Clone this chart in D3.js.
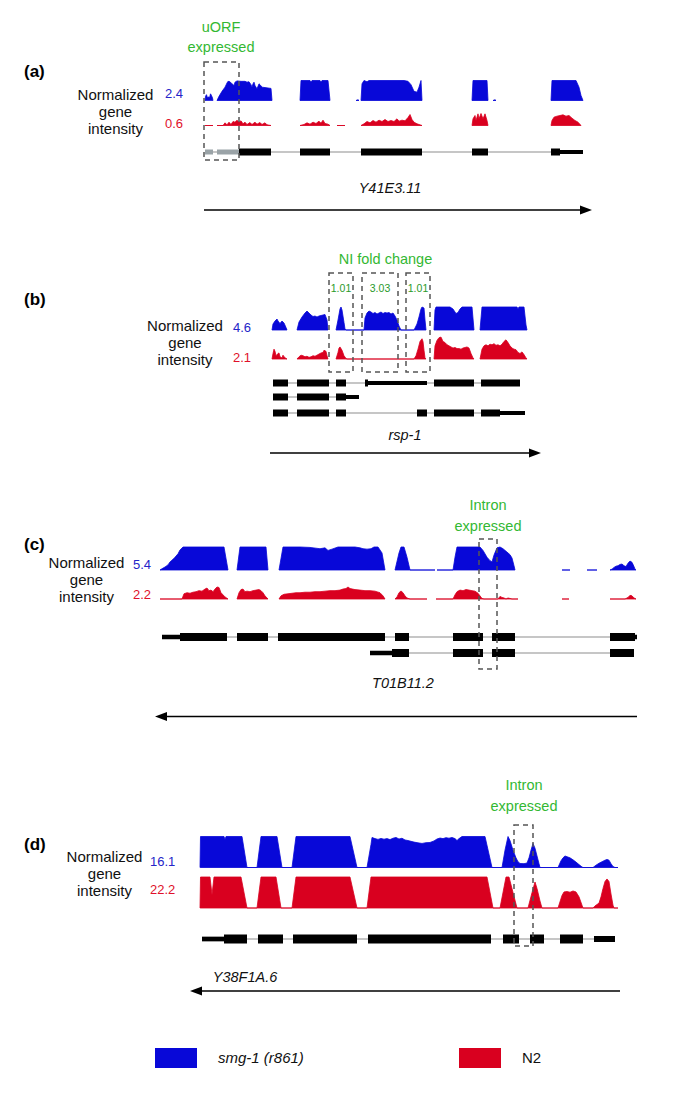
<!DOCTYPE html>
<html><head><meta charset="utf-8">
<script src="https://cdn.jsdelivr.net/npm/d3@7"></script>
<style>body{margin:0;background:#fff}svg text{font-family:"Liberation Sans",Arial,Helvetica,sans-serif}</style>
</head><body>
<svg id="fig" width="685" height="1114"></svg>
<script>
// ---------------- DATA ----------------
const panelLabels = ["(a)", "(b)", "(c)", "(d)"];
const geneNames = ["Y41E3.11", "rsp-1", "T01B11.2", "Y38F1A.6"];
const blueMax = [2.4, 4.6, 5.4, 16.1];
const redMax = [0.6, 2.1, 2.2, 22.2];
const annotations = [["uORF", "expressed"], ["NI fold change"], ["Intron", "expressed"], ["Intron", "expressed"]];
const foldChanges = ["1.01", "3.03", "1.01"];
const legendLabels = ["smg-1 (r861)", "N2"];

// coverage: [position, normalized intensity]
const aBlue = [
  [[1,0],[1.5,0.5],[2.5,0.7],[3.5,0.3],[4.5,0.45],[5.5,0.3],[6.5,0.8],[7.5,0.6],[8.5,0.3],[9,0]],
  [[13,0],[15,0.5],[18,1.1],[21,1.6],[23,2.1],[24,2.3],[26,2.25],[28,2.0],[30,1.8],[31,2.2],[33,2.35],[37,2.3],[41,2.3],[43,2.2],[45,2.25],[47,1.9],[48,1.6],[49,2.0],[50,2.2],[51,1.8],[53,1.4],[55,2.0],[56,1.9],[58,1.6],[61,1.55],[64,1.5],[67,1.45],[68,0]],
  [[96,0],[97,2.4],[106,2.4],[107,2.2],[108,2.4],[116,2.4],[117,2.2],[118,2.4],[124,2.4],[126,0]],
  [[152,0],[154,0.1],[155,0]],
  [[157,0],[158,2.0],[160,2.4],[163,2.25],[165,2.4],[200,2.4],[204,2.3],[207,1.9],[210,1.1],[213,1.0],[215,1.6],[217,2.4],[218,0]],
  [[268,0],[269,2.4],[283,2.4],[284,0]],
  [[289,0],[291,0.1],[292,0]],
  [[347,0],[348,2.4],[372,2.4],[375,1.6],[377,0.6],[379,0]]
];
const aRed = [
  [[1,0],[9,0]],
  [[13,0],[19,0],[21,0.08],[23,0.02],[25,0.1],[27,0.03],[29,0.12],[31,0.1],[33,0.16],[35,0.1],[37,0.14],[39,0.05],[41,0.1],[43,0.03],[46,0.09],[48,0.03],[51,0.1],[53,0.04],[56,0.09],[58,0.03],[61,0.08],[63,0.02],[67,0]],
  [[96,0],[100,0.03],[103,0.08],[106,0.04],[109,0.1],[112,0.06],[115,0.13],[117,0.07],[119,0.16],[121,0.06],[124,0.04],[126,0]],
  [[133,0],[141,0]],
  [[157,0],[160,0.05],[163,0.12],[166,0.08],[169,0.15],[172,0.1],[175,0.16],[178,0.12],[181,0.18],[184,0.12],[187,0.15],[190,0.12],[193,0.2],[195,0.13],[198,0.16],[201,0.14],[204,0.24],[206,0.33],[208,0.18],[210,0.1],[213,0.05],[218,0]],
  [[268,0],[269,0.2],[271,0.3],[272,0.15],[274,0.35],[275,0.2],[277,0.36],[279,0.2],[281,0.35],[283,0.15],[284,0]],
  [[347,0],[348,0.15],[350,0.25],[353,0.28],[356,0.3],[359,0.32],[362,0.28],[365,0.3],[368,0.22],[371,0.15],[374,0.1],[377,0]]
];
const bBlue = [
  [[0,0],[1,1.2],[3,1.8],[5,2.2],[6,1.8],[8,1.3],[10,1.8],[12,1.4],[14,0.5],[15,0]],
  [[25,0],[27,1.6],[30,2.6],[33,3.4],[35,3.8],[37,3.4],[39,3.0],[41,2.7],[43,2.8],[45,2.6],[47,2.8],[49,2.9],[51,3.0],[53,3.1],[55,2.0],[56,0]],
  [[64,0],[66,2.0],[68,4.2],[69,4.6],[70,4.0],[72,1.5],[73,0.2],[74,0],[92,0],[93,2.4],[95,3.4],[97,3.8],[99,3.6],[101,3.3],[103,3.5],[105,3.2],[107,3.4],[109,3.6],[111,3.3],[113,3.5],[115,3.4],[117,3.5],[119,3.2],[121,3.4],[123,2.8],[125,2.0],[127,0.8],[129,0],[142,0],[145,1.2],[147,2.6],[149,4.2],[150,4.6],[152,4.4],[153,2.0],[154,0]],
  [[162,0],[163,4.0],[164,4.6],[178,4.6],[181,4.2],[184,3.3],[186,3.5],[188,4.2],[190,4.6],[200,4.6],[202,0]],
  [[208,0],[210,4.6],[245,4.6],[246,4.2],[247,4.6],[252,4.6],[254,1.0],[255,0]]
];
const bRed = [
  [[0,0],[1,0.5],[2,0.9],[3,0.7],[4,0.3],[6,0.5],[7,0.55],[8,0.2],[10,0.1],[11,0.35],[12,0.2],[14,0.05],[15,0]],
  [[25,0],[27,0.2],[29,0.35],[31,0.3],[33,0.2],[35,0.25],[37,0.15],[39,0.2],[41,0.3],[43,0.25],[45,0.35],[47,0.45],[49,0.55],[51,0.6],[52,0.8],[54,0.7],[55,0.3],[56,0]],
  [[64,0],[66,0.6],[67,1.0],[68,1.1],[70,0.8],[72,0.3],[74,0.05],[75,0],[142,0],[144,0.3],[146,0.9],[148,1.6],[150,1.85],[151,1.6],[152,0.8],[153,0.1],[154,0]],
  [[162,0],[163,1.2],[165,1.7],[167,1.95],[169,2.0],[171,1.6],[173,1.5],[175,1.3],[177,1.2],[179,1.1],[181,1.0],[183,1.05],[185,0.95],[187,0.95],[189,0.9],[191,1.0],[193,1.05],[195,1.1],[197,1.0],[199,0.5],[201,0.1],[202,0]],
  [[208,0],[210,0.9],[212,1.2],[214,1.3],[216,1.2],[218,1.35],[220,1.3],[222,1.4],[224,1.25],[226,1.3],[228,1.2],[230,1.35],[232,1.6],[234,1.75],[236,1.5],[238,1.2],[240,1.0],[242,0.9],[244,0.85],[246,0.6],[248,0.5],[250,0.65],[252,0.4],[254,0.1],[255,0]]
];
const cBlue = [
  [[0,0],[2,0.3],[5,0.7],[8,1.2],[10,1.9],[13,2.5],[15,3.0],[18,3.8],[20,4.7],[23,5.4],[64,5.4],[68,0]],
  [[77,0],[80,5.4],[106,5.4],[108,0]],
  [[119,0],[123,5.4],[140,5.4],[150,5.3],[160,5.0],[165,5.2],[168,4.6],[172,4.9],[178,5.4],[195,5.4],[200,5.2],[203,5.0],[207,4.9],[211,5.0],[214,5.4],[218,5.4],[222,4.0],[225,0]],
  [[235,0],[239,4.0],[241,5.4],[244,5.4],[247,3.0],[250,0],[275,0]],
  [[277,0],[293,0],[295,3.0],[297,5.4],[320,5.4],[323,4.6],[327,3.0],[330,2.2],[332,1.9],[334,3.5],[337,5.2],[340,5.4],[343,5.0],[347,4.2],[350,3.6],[352,2.8],[354,1.0],[355,0]],
  [[402,0],[410,0]],
  [[427,0],[437,0]],
  [[450,0],[452,0.2],[454,0.6],[456,0.9],[458,1.0],[460,1.3],[462,1.4],[464,1.0],[466,0.8],[468,1.6],[470,2.1],[472,1.8],[474,0.8],[475,0.2],[476,0]]
];
const cRed = [
  [[0,0],[22,0],[24,0.5],[27,0.6],[30,0.55],[33,0.65],[36,0.7],[39,0.8],[42,0.75],[45,0.95],[47,1.05],[49,0.8],[51,0.85],[53,0.7],[55,0.95],[57,1.15],[59,1.1],[61,0.6],[63,0.4],[65,0.2],[68,0]],
  [[77,0],[79,0.6],[81,0.9],[83,0.95],[85,0.7],[87,0.75],[90,0.7],[93,0.8],[96,0.85],[99,0.9],[101,0.8],[103,0.6],[105,0.3],[108,0]],
  [[119,0],[121,0.3],[124,0.45],[128,0.5],[132,0.55],[136,0.6],[140,0.6],[145,0.65],[150,0.65],[155,0.7],[160,0.7],[165,0.75],[170,0.8],[175,0.8],[180,0.85],[183,0.95],[186,1.0],[188,1.15],[190,1.0],[195,0.9],[200,0.85],[205,0.8],[210,0.8],[215,0.75],[220,0.6],[223,0.3],[225,0]],
  [[235,0],[237,0.2],[239,0.6],[241,0.77],[243,0.6],[245,0.3],[247,0.1],[250,0],[267,0]],
  [[276,0],[293,0],[295,0.4],[297,0.7],[300,0.85],[303,0.8],[306,0.9],[309,0.85],[312,0.8],[315,0.75],[318,0.55],[320,0.3],[322,0.05],[324,0],[338,0],[340,0.25],[342,0.15],[344,0.1],[346,0],[348,0.1],[350,0.05],[352,0],[358,0]],
  [[402,0],[409,0]],
  [[450,0],[465,0],[468,0.15],[470,0.35],[472,0.3],[474,0.1],[476,0]]
];
const dBlue = [
  [[0,0],[0.5,17],[24,17],[25,14.5],[26,17],[42,17],[47,0],[57,0],[61,17],[77,17],[82,0],[92,0],[96,17],[150,17],[157,0],
   [167,0],[171,12],[172,15.6],[175,15.0],[178,14.6],[181,15.1],[184,14.7],[187,15.0],[190,14.5],[193,15.2],[196,15.6],[199,14.8],[202,15.2],[205,14.3],[208,14.0],[211,13.6],[214,13.2],[218,12.8],[222,12.5],[226,12.9],[230,13.0],[234,13.8],[237,14.8],[240,15.3],[243,15.0],[246,15.5],[249,15.2],[252,15.6],[255,15.0],[257,14.0],[259,15.0],[262,17],[285,17],[292,0],
   [302,0],[305,9],[308,16.1],[310,14],[313,9],[316,5],[318,3],[320,2.1],[324,2.0],[327,2.3],[329,5],[331,9],[333,12.5],[335,10],[337,6],[339,2],[340,0],
   [358,0],[361,3.5],[363,5.0],[365,6.0],[367,5.6],[370,5.0],[373,4.0],[376,2.8],[379,1.5],[382,0.3],[383,0],
   [393,0],[396,1.2],[399,2.2],[402,3.0],[405,3.8],[407,4.2],[409,3.8],[411,2.0],[413,0.5],[415,0],[418,0]]
];
const dRed = [
  [[0,0],[0.5,25],[10,25],[12,9.5],[14,25],[41,25],[47,0],[57,0],[61,25],[76,25],[81,0],[92,0],[96,25],[150,25],[157,0],
   [167,0],[171,25],[287,25],[293,0],[300,0],[306,25],[309,25],[317,0],
   [328,0],[332,11],[335,18.6],[337,14],[340,5],[342,0],
   [358,0],[362,9],[364,11.5],[367,11.8],[370,11.3],[373,12.2],[376,11.5],[379,8],[382,2],[383,0],
   [393,0],[395,1.5],[397,2.5],[399,3.5],[401,8],[403,14],[405,19],[407,20.8],[409,19],[411,10],[413,2],[414,0],[418,0]]
];

// transcripts: [start, end, kind]  c = coding exon, u = UTR, g = uORF, m = terminal exon
const aTranscripts = [
  [[1,9,"g"],[13,35,"g"],[35,67,"c"],[96,126,"c"],[157,218,"c"],[268,284,"c"],[347,356,"c"],[356,379,"u"]]
];
const bTranscripts = [
  [[1,16,"c"],[25,57,"c"],[64,74,"c"],[93,96,"c"],[96,155,"u"],[162,202,"c"],[209,248,"c"]],
  [[1,16,"c"],[25,57,"c"],[64,74,"c"],[74,87,"u"]],
  [[1,16,"c"],[25,57,"c"],[64,74,"c"],[145,155,"c"],[162,202,"c"],[209,228,"c"],[228,253,"u"]]
];
const cTranscripts = [
  [[2,20,"u"],[20,67,"c"],[77,108,"c"],[118,225,"c"],[235,249,"c"],[293,323,"c"],[332,355,"c"],[450,475,"c"],[475,477,"u"]],
  [[210,232,"u"],[232,249,"c"],[293,323,"c"],[332,355,"c"],[450,474,"c"]]
];
const dTranscripts = [
  [[2,24,"u"],[24,47,"c"],[58,83,"c"],[93,157,"c"],[168,291,"c"],[303,319,"c"],[330,344,"c"],[360,383,"c"],[394,415,"m"]]
];

// highlighted regions [start, end]
const aBoxes = [[0,35]];
const bBoxes = [[57,81],[90,126],[134,158]];
const cBoxes = [[319,337]];
const dBoxes = [[314,333]];

// transcription direction arrows [from, to]
const arrowSpans = [[0,388],[-2,269],[477,-5],[420,-10]];

// ---------------- LAYOUT ----------------
const BLUE = "#0808d8", RED = "#d9001f", GREEN = "#33b833", BLUETXT = "#2424c8", REDTXT = "#e0102a";
const svg = d3.select("#fig");

const layouts = [
  {dom:[0,380], rng:[204,584], bBase:100.5, rBase:125.5, th:20, rows:[152], ex:7, ut:4,
   labY:77, normX:115.5, normY:100.4, valX:165, bValY:98, rValY:128, boxY:[62,160],
   annX:221, annY:[32,52], nameX:390, nameY:193, arrowY:210},
  {dom:[0,255], rng:[272,527], bBase:330, rBase:359, th:23, rows:[383,397,413], ex:7, ut:4,
   labY:305, normX:185, normY:331.4, valX:233, bValY:331.5, rValY:361.5, boxY:[273,372],
   annX:385.5, annY:[264], nameX:405, nameY:440, arrowY:453},
  {dom:[0,478], rng:[160,638], bBase:570, rBase:599, th:23, rows:[637,653], ex:8, ut:4.5,
   labY:550, normX:86.5, normY:568.4, valX:133, bValY:568.5, rValY:598.5, boxY:[539,669],
   annX:488, annY:[510,531], nameX:403, nameY:688, arrowY:716.5},
  {dom:[0,418], rng:[200,618], bBase:867.5, rBase:908, th:31, rows:[939], ex:9, ut:4.7,
   labY:850, normX:104.5, normY:862.4, valX:150, bValY:865.5, rValY:893.5, boxY:[825,946],
   annX:524, annY:[790,811], nameX:245, nameY:982, arrowY:991}
];
const blues = [aBlue, bBlue, cBlue, dBlue];
const reds = [aRed, bRed, cRed, dRed];
const transcripts = [aTranscripts, bTranscripts, cTranscripts, dTranscripts];
const boxes = [aBoxes, bBoxes, cBoxes, dBoxes];

function drawTrack(g, x, segs, max, base, h, color) {
  const y = d3.scaleLinear().domain([0, max]).range([base, base - h]).clamp(true);
  const area = d3.area().x(d => x(d[0])).y0(y(0)).y1(d => y(d[1]));
  g.selectAll(null).data(segs).join("path")
    .attr("d", area).attr("fill", color).attr("stroke", color)
    .attr("stroke-width", 0.8).attr("stroke-linejoin", "round");
}

layouts.forEach((L, i) => {
  const g = svg.append("g");
  const x = d3.scaleLinear().domain(L.dom).range(L.rng);

  // panel label
  g.append("text").attr("x", 24).attr("y", L.labY).attr("font-size", 17).attr("font-weight", "bold").text(panelLabels[i]);

  // y label
  ["Normalized", "gene", "intensity"].forEach((t, k) => {
    g.append("text").attr("x", L.normX).attr("y", L.normY + k * 17).attr("text-anchor", "middle")
      .attr("font-size", 15).attr("fill", "#111").text(t);
  });
  g.append("text").attr("x", L.valX).attr("y", L.bValY).attr("font-size", 13).attr("fill", BLUETXT).text(blueMax[i]);
  g.append("text").attr("x", L.valX).attr("y", L.rValY).attr("font-size", 13).attr("fill", REDTXT).text(redMax[i]);

  // coverage tracks
  drawTrack(g, x, blues[i], blueMax[i], L.bBase, L.th, BLUE);
  drawTrack(g, x, reds[i], redMax[i], L.rBase, L.th, RED);

  // gene models
  transcripts[i].forEach((tx, r) => {
    const yR = L.rows[r];
    g.append("line").attr("x1", x(tx[0][0])).attr("x2", x(tx[tx.length - 1][1]))
      .attr("y1", yR).attr("y2", yR).attr("stroke", "#8d8d8d").attr("stroke-width", 1);
    const hh = k => k === "c" ? L.ex : k === "g" ? 5 : k === "m" ? 6 : L.ut;
    g.selectAll(null).data(tx).join("rect")
      .attr("x", d => x(d[0])).attr("width", d => x(d[1]) - x(d[0]))
      .attr("y", d => yR - hh(d[2]) / 2).attr("height", d => hh(d[2]))
      .attr("fill", d => d[2] === "g" ? "#9aa3a7" : "#000");
  });

  // dashed highlight boxes
  g.selectAll(null).data(boxes[i]).join("rect")
    .attr("x", d => x(d[0])).attr("width", d => x(d[1]) - x(d[0]))
    .attr("y", L.boxY[0]).attr("height", L.boxY[1] - L.boxY[0])
    .attr("fill", "none").attr("stroke", "#555").attr("stroke-width", 1.5).attr("stroke-dasharray", "5,4");

  // annotation text
  annotations[i].forEach((t, k) => {
    g.append("text").attr("x", L.annX).attr("y", L.annY[k]).attr("text-anchor", "middle")
      .attr("font-size", 14.5).attr("fill", GREEN).text(t);
  });
  if (i === 1) {
    g.selectAll(null).data(boxes[i]).join("text")
      .attr("x", d => (x(d[0]) + x(d[1])) / 2).attr("y", 292).attr("text-anchor", "middle")
      .attr("font-size", 10.5).attr("fill", "#2a9a2a").text((d, k) => foldChanges[k]);
  }

  // gene name
  g.append("text").attr("x", L.nameX).attr("y", L.nameY).attr("text-anchor", "middle")
    .attr("font-size", 14.5).attr("font-style", "italic").attr("fill", "#111").text(geneNames[i]);

  // direction arrow
  const [a0, a1] = arrowSpans[i];
  const x0 = x(a0), x1 = x(a1), dir = Math.sign(x1 - x0), yA = L.arrowY;
  g.append("line").attr("x1", x0).attr("x2", x1 - dir * 8).attr("y1", yA).attr("y2", yA)
    .attr("stroke", "#000").attr("stroke-width", 1.5);
  g.append("path").attr("d", `M${x1},${yA} L${x1 - dir * 12},${yA - 4.5} L${x1 - dir * 12},${yA + 4.5} Z`).attr("fill", "#000");
});

// legend
const legend = svg.append("g");
const legendColors = [BLUE, RED];
const legendX = [155, 459];
legendLabels.forEach((t, k) => {
  legend.append("rect").attr("x", legendX[k]).attr("y", 1048).attr("width", 42).attr("height", 20).attr("fill", legendColors[k]);
  legend.append("text").attr("x", legendX[k] + 63).attr("y", 1063).attr("font-size", 15)
    .attr("font-style", k === 0 ? "italic" : "normal").attr("fill", "#111").text(t);
});
</script>
</body></html>
